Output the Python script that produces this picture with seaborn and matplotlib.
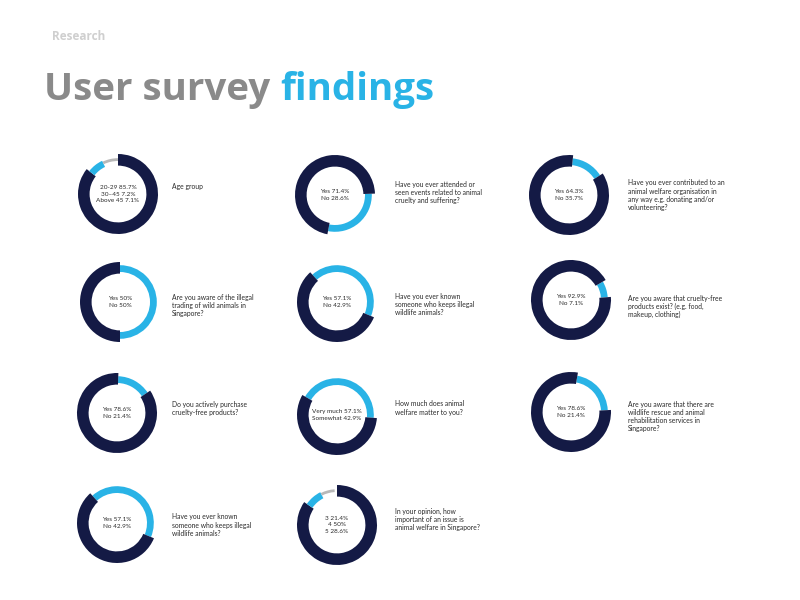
import matplotlib
matplotlib.use("Agg")
import matplotlib.pyplot as plt
import seaborn as sns

# ---------------- data ----------------
questions = [
    "Age group",
    "Have you ever attended or\nseen events related to animal\ncruelty and suffering?",
    "Have you ever contributed to an\nanimal welfare organisation in\nany way e.g. donating and/or\nvolunteering?",
    "Are you aware of the illegal\ntrading of wild animals in\nSingapore?",
    "Have you ever known\nsomeone who keeps illegal\nwildlife animals?",
    "Are you aware that cruelty-free\nproducts exist? (e.g. food,\nmakeup, clothing)",
    "Do you actively purchase\ncruelty-free products?",
    "How much does animal\nwelfare matter to you?",
    "Are you aware that there are\nwildlife rescue and animal\nrehabilitation services in\nSingapore?",
    "Have you ever known\nsomeone who keeps illegal\nwildlife animals?",
    "In your opinion, how\nimportant of an issue is\nanimal welfare in Singapore?",
]
answers = [
    ["20-29", "30–45", "Above 45"],
    ["Yes", "No"], ["Yes", "No"], ["Yes", "No"], ["Yes", "No"], ["Yes", "No"],
    ["Yes", "No"], ["Very much", "Somewhat"], ["Yes", "No"], ["Yes", "No"],
    ["3", "4", "5"],
]
answer_pct = [
    ["85.7%", "7.2%", "7.1%"],
    ["71.4%", "28.6%"], ["64.3%", "35.7%"], ["50%", "50%"], ["57.1%", "42.9%"],
    ["92.9%", "7.1%"], ["78.6%", "21.4%"], ["57.1%", "42.9%"], ["78.6%", "21.4%"],
    ["57.1%", "42.9%"], ["21.4%", "50%", "28.6%"],
]
# arc shares as drawn in the picture (percent), in drawing order
arc_shares = [
    [85.7, 7.2, 7.1],
    [28.6, 71.4],
    [14.3, 85.7],
    [50.0, 50.0],
    [42.9, 57.1],
    [7.1, 92.9],
    [15.0, 85.0],
    [42.9, 57.1],
    [21.4, 78.6],
    [42.9, 57.1],
    [84.7, 7.8, 6.4],
]

# ---------------- style ----------------
sns.set_theme(style="white")
plt.rcParams["font.family"] = ["Lato", "DejaVu Sans"]

NAVY = "#141a45"
BLUE = "#29b3e6"
GREY = "#b8b8b8"
TXT = "#2a2a2a"

# layout (pixels)
centers = [(118, 194), (335, 195), (569, 195),
           (120, 302), (337, 302), (571, 300),
           (117, 413), (337, 415), (571, 412),
           (117, 523), (337, 525)]
start_deg = [0, 88, 6, 0, -42, 60, 2, -60, 10, -42, 0]
q_pos = [(172, 186), (395, 184), (628, 183),
         (172, 297), (395, 296), (628, 298),
         (172, 404), (395, 404), (628, 404),
         (172, 517), (395, 511)]

W, H = 800, 600
fig = plt.figure(figsize=(8, 6), dpi=100)
fig.patch.set_facecolor("white")

ring = {NAVY: (1.0, 0.29), BLUE: (0.92, 0.17), GREY: (0.895, 0.07)}

for i in range(len(questions)):
    cx, cy = centers[i]
    ax = fig.add_axes([(cx - 50) / W, 1 - (cy + 50) / H, 100 / W, 100 / H])
    shares = arc_shares[i]
    if len(shares) == 3:
        cols = [NAVY, BLUE, GREY]
    else:
        cols = [BLUE, NAVY]
    ang = start_deg[i]
    for s, c in zip(shares, cols):
        r, w = ring[c]
        ax.pie([s / 100.0], startangle=90 - ang, counterclock=False, colors=[c],
               radius=r, normalize=False,
               wedgeprops=dict(width=w, edgecolor="none", linewidth=0))
        ang += s / 100.0 * 360
    ax.set_xlim(-1.25, 1.25)
    ax.set_ylim(-1.25, 1.25)
    ax.set_aspect("equal")
    ax.axis("off")
    lines = [f"{a} {p}" for a, p in zip(answers[i], answer_pct[i])]
    ax.text(0, 0, "\n".join(lines), ha="center", va="center", fontsize=4.6,
            color=TXT, linespacing=1.3)

    qx, qy = q_pos[i]
    fig.text(qx / W, 1 - (qy - 3.5) / H, questions[i], ha="left", va="top",
             fontsize=4.9, color=TXT, linespacing=1.2)

# header
fig.text(52 / W, 1 - 37 / H, "Research", ha="left", va="center", fontsize=8.5,
         fontweight="bold", color="#cfcfcf", family=["Open Sans", "DejaVu Sans"])
t1 = fig.text(44 / W, 1 - 100 / H, "User survey", ha="left", va="baseline",
              fontsize=27.7, fontweight="bold", color="#8a8a8a",
              family=["Open Sans", "DejaVu Sans"])
fig.canvas.draw()
bb = t1.get_window_extent(renderer=fig.canvas.get_renderer())
fig.text((bb.x1 + 10) / W, 1 - 100 / H, "findings", ha="left", va="baseline",
         fontsize=27.7, fontweight="bold", color=BLUE,
         family=["Open Sans", "DejaVu Sans"])

fig.savefig("out.png", dpi=100, facecolor="white")
